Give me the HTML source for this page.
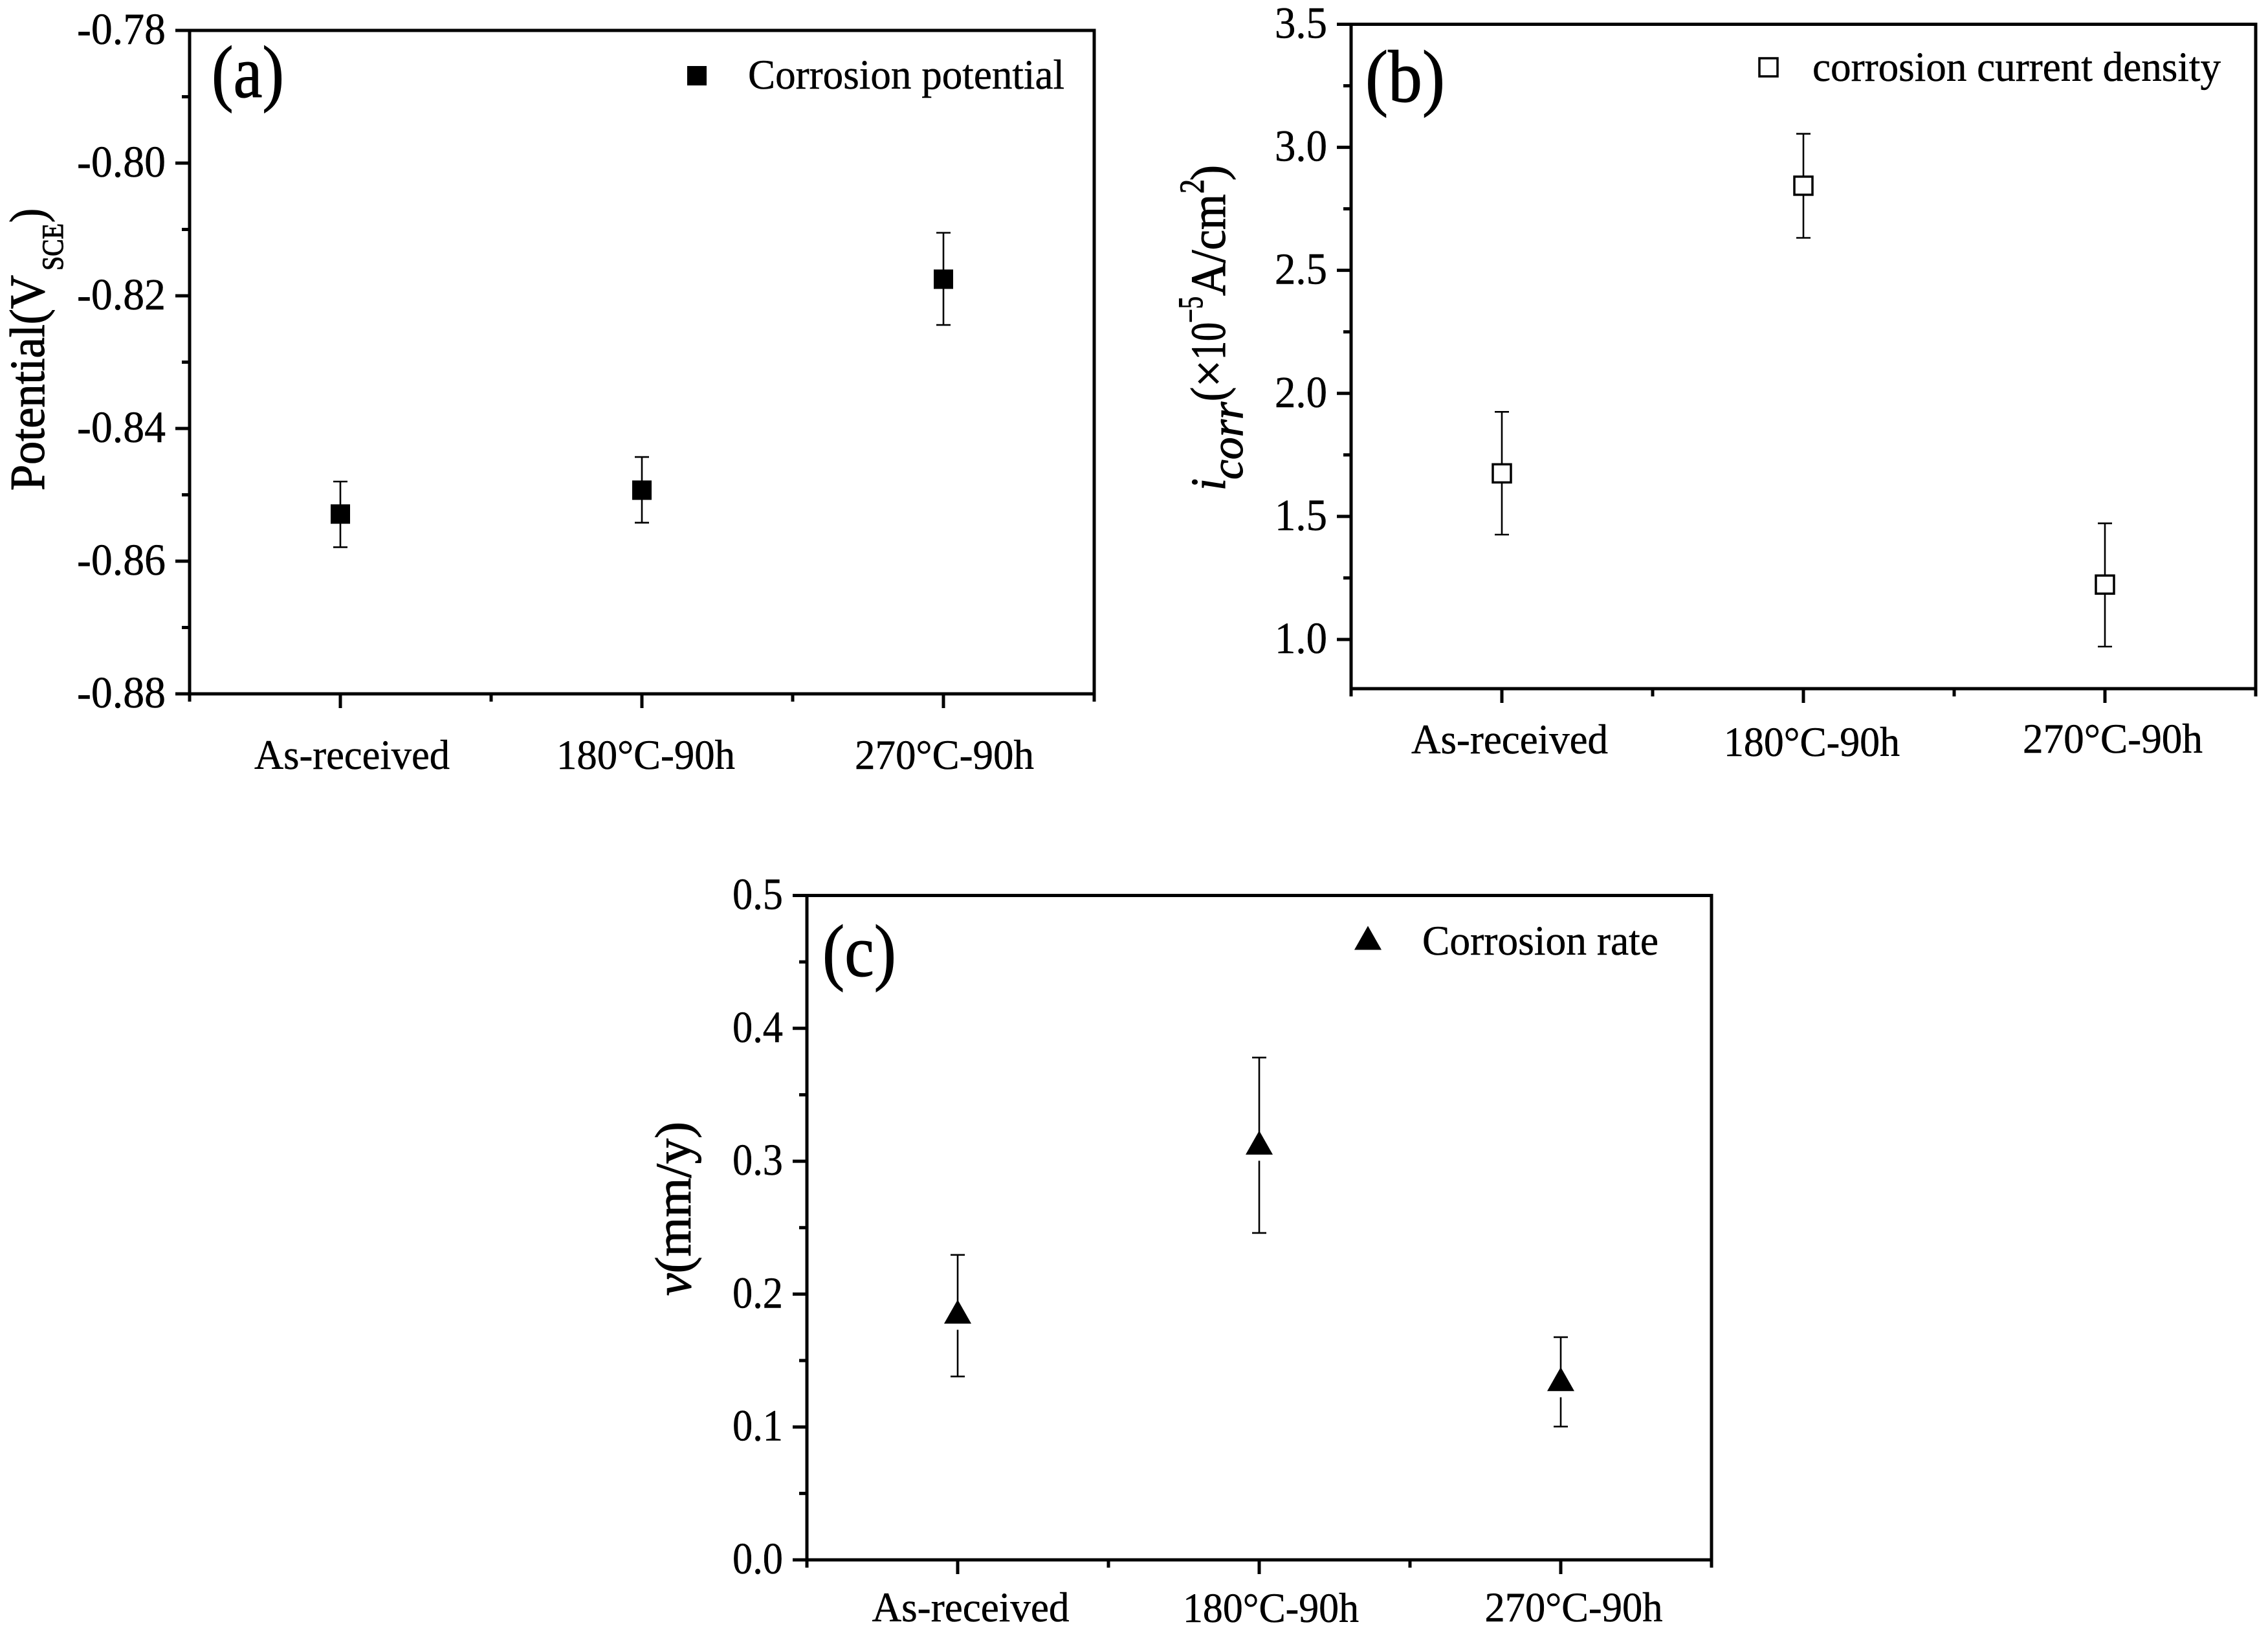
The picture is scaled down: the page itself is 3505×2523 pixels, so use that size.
<!DOCTYPE html>
<html lang="en">
<head>
<meta charset="utf-8">
<title>Corrosion potential, current density and rate</title>
<style>
html,body{margin:0;padding:0;background:#fff;}
svg{display:block;}
text{font-family:"Liberation Serif","DejaVu Serif",serif;fill:#000;stroke:#000;stroke-width:0.5px;}
.heavy text,text.heavy{stroke-width:1.1px;}
</style>
</head>
<body>
<svg id="figure" xmlns="http://www.w3.org/2000/svg" width="3505" height="2523" viewBox="0 0 3505 2523">
<rect x="0" y="0" width="3505" height="2523" fill="#fff"/>

<!-- panel letters -->
<text class="heavy" x="327" y="150" font-size="114" textLength="112" lengthAdjust="spacingAndGlyphs">(a)</text>
<text class="heavy" x="2110" y="157" font-size="114" textLength="123" lengthAdjust="spacingAndGlyphs">(b)</text>
<text class="heavy" x="1271" y="1508" font-size="114" textLength="114" lengthAdjust="spacingAndGlyphs">(c)</text>

<!-- legends -->
<text x="1156" y="137" font-size="65" textLength="489" lengthAdjust="spacingAndGlyphs">Corrosion potential</text>
<text x="2801" y="125" font-size="65" textLength="631" lengthAdjust="spacingAndGlyphs">corrosion current density</text>
<text x="2198" y="1475" font-size="65" textLength="365" lengthAdjust="spacingAndGlyphs">Corrosion rate</text>

<!-- y axis title a -->
<g class="heavy">
  <text transform="translate(68,758) rotate(-90)" font-size="76" textLength="333" lengthAdjust="spacingAndGlyphs">Potential(V</text>
  <text transform="translate(97,418) rotate(-90)" font-size="47" textLength="73" lengthAdjust="spacingAndGlyphs">SCE</text>
  <text transform="translate(68,344) rotate(-90)" font-size="76" textLength="22" lengthAdjust="spacingAndGlyphs">)</text>
</g>

<!-- y axis title b -->
<g class="heavy">
  <text transform="translate(1893,758) rotate(-90)" font-size="76" font-style="italic" textLength="19" lengthAdjust="spacingAndGlyphs">i</text>
  <text transform="translate(1920,741) rotate(-90)" font-size="70" font-style="italic" textLength="120" lengthAdjust="spacingAndGlyphs">corr</text>
  <text transform="translate(1893,620) rotate(-90)" font-size="76" textLength="22" lengthAdjust="spacingAndGlyphs">(</text>
  <text transform="translate(1893,598) rotate(-90)" font-size="76" textLength="42" lengthAdjust="spacingAndGlyphs">×</text>
  <text transform="translate(1893,556) rotate(-90)" font-size="76" textLength="58" lengthAdjust="spacingAndGlyphs">10</text>
  <text transform="translate(1858,499) rotate(-90)" font-size="54" textLength="41" lengthAdjust="spacingAndGlyphs">−5</text>
  <text transform="translate(1893,457) rotate(-90)" font-size="76" textLength="157" lengthAdjust="spacingAndGlyphs">A/cm</text>
  <text transform="translate(1860,299) rotate(-90)" font-size="54" textLength="22" lengthAdjust="spacingAndGlyphs">2</text>
  <text transform="translate(1893,279) rotate(-90)" font-size="76" textLength="24" lengthAdjust="spacingAndGlyphs">)</text>
</g>

<!-- y axis title c -->
<text class="heavy" transform="translate(1067,2002) rotate(-90)" font-size="78" textLength="269" lengthAdjust="spacingAndGlyphs"><tspan font-style="italic">v</tspan>(mm/y)</text>

<g id="plots"></g>
</svg>

<script>
// Shared categories
const categories = ["As-received", "180°C-90h", "270°C-90h"];
const categoryIndex = [1, 2, 3];
const categoryMinorTicks = [0.5, 1.5, 2.5, 3.5];

// Panel (a): corrosion potential
const potentialValues = [-0.8529, -0.8493, -0.8175];
const potentialHigh = [-0.8480, -0.8443, -0.8105];
const potentialLow = [-0.8579, -0.8542, -0.8244];
const potentialTicks = [-0.78, -0.80, -0.82, -0.84, -0.86, -0.88];
const potentialTickLabels = ["-0.78", "-0.80", "-0.82", "-0.84", "-0.86", "-0.88"];
const potentialMinorTicks = [-0.79, -0.81, -0.83, -0.85, -0.87];

// Panel (b): corrosion current density
const currentValues = [1.675, 2.844, 1.223];
const currentHigh = [1.925, 3.055, 1.472];
const currentLow = [1.426, 2.632, 0.971];
const currentTicks = [1.0, 1.5, 2.0, 2.5, 3.0, 3.5];
const currentTickLabels = ["1.0", "1.5", "2.0", "2.5", "3.0", "3.5"];
const currentMinorTicks = [1.25, 1.75, 2.25, 2.75, 3.25];

// Panel (c): corrosion rate
const rateValues = [0.1868, 0.314, 0.136];
const rateHigh = [0.2295, 0.378, 0.1676];
const rateLow = [0.138, 0.246, 0.1003];
const rateTicks = [0.0, 0.1, 0.2, 0.3, 0.4, 0.5];
const rateTickLabels = ["0.0", "0.1", "0.2", "0.3", "0.4", "0.5"];
const rateMinorTicks = [0.05, 0.15, 0.25, 0.35, 0.45];

const SVG_NS = "http://www.w3.org/2000/svg";
const plots = document.getElementById("plots");

function make(parent, tag, attrs) {
  const node = document.createElementNS(SVG_NS, tag);
  for (const key in attrs) node.setAttribute(key, attrs[key]);
  parent.appendChild(node);
  return node;
}

function segment(parent, x1, y1, x2, y2, width) {
  return make(parent, "line", { x1: x1, y1: y1, x2: x2, y2: y2, stroke: "#000", "stroke-width": width });
}

function drawMarker(parent, kind, cx, cy) {
  let mark;
  if (kind === "filled-square") {
    mark = make(parent, "rect", { x: cx - 15, y: cy - 15, width: 30, height: 30, fill: "#000" });
  } else if (kind === "open-square") {
    mark = make(parent, "rect", { x: cx - 14, y: cy - 14, width: 28, height: 28, fill: "#fff", stroke: "#000", "stroke-width": 3.5 });
  } else {
    mark = make(parent, "path", { d: "M" + cx + " " + (cy - 18.5) + "L" + (cx + 21) + " " + (cy + 18.5) + "L" + (cx - 21) + " " + (cy + 18.5) + "Z", fill: "#000" });
  }
  return mark;
}

function drawPanel(p) {
  const group = make(plots, "g", {});
  
  

  const xAt = v => p.left + (v - 0.5) / 3 * (p.right - p.left);
  const yAt = v => p.bottom - (v - p.yMin) / (p.yMax - p.yMin) * (p.bottom - p.top);

  const frame = make(group, "rect", { x: p.left, y: p.top, width: p.right - p.left, height: p.bottom - p.top, fill: "none", stroke: "#000", "stroke-width": 5 });
  
  

  p.ticks.forEach((t, i) => {
    const y = yAt(t);
    const tick = segment(group, p.left - 22, y, p.left, y, 5);
    
    
    const label = make(group, "text", { x: p.left - 37, y: y + 21, "font-size": 69, "text-anchor": "end", textLength: p.tickWidth, lengthAdjust: "spacingAndGlyphs" });
    label.textContent = p.tickLabels[i];
    
    
  });
  p.minorTicks.forEach(t => {
    const y = yAt(t);
    const tick = segment(group, p.left - 12, y, p.left, y, 5);
    
    
  });
  categoryMinorTicks.forEach(t => {
    const x = xAt(t);
    const tick = segment(group, x, p.bottom, x, p.bottom + 12, 5);
    
    
  });
  categoryIndex.forEach((c, i) => {
    const x = xAt(c);
    const tick = segment(group, x, p.bottom, x, p.bottom + 22, 5);
    
    
    const label = make(group, "text", { x: x + p.labelShift[i], y: p.labelBase[i], "font-size": 65, "text-anchor": "middle", textLength: p.labelWidth[i], lengthAdjust: "spacingAndGlyphs" });
    label.textContent = categories[i];
    
    
  });

  categoryIndex.forEach((c, i) => {
    const x = xAt(c);
    const hi = yAt(p.high[i]);
    const lo = yAt(p.low[i]);
    const cy = yAt(p.values[i]);
    const err = make(group, "g", {});
    
    
    segment(err, x, hi, x, lo, 2.6);
    segment(err, x - 11, hi, x + 11, hi, 2.6);
    segment(err, x - 11, lo, x + 11, lo, 2.6);
    if (p.marker === "triangle") {
      make(err, "rect", { x: x - 6, y: cy, width: 12, height: 28, fill: "#fff" });
    }
    const mark = drawMarker(group, p.marker, x, cy);
    
    
  });

  const legendMark = drawMarker(group, p.marker, p.legendX, p.legendY);
  
  
}

drawPanel({
  id: "a", left: 293, right: 1691, top: 47, bottom: 1072, yMin: -0.88, yMax: -0.78,
  ticks: potentialTicks, tickLabels: potentialTickLabels, minorTicks: potentialMinorTicks, tickWidth: 137,
  values: potentialValues, high: potentialHigh, low: potentialLow, marker: "filled-square",
  labelShift: [18, 6, 1.5], labelBase: [1188, 1188, 1188], labelWidth: [302, 276, 277],
  legendX: 1077, legendY: 117
});
drawPanel({
  id: "b", left: 2088, right: 3486, top: 37.5, bottom: 1064, yMin: 0.8, yMax: 3.5,
  ticks: currentTicks, tickLabels: currentTickLabels, minorTicks: currentMinorTicks, tickWidth: 81,
  values: currentValues, high: currentHigh, low: currentLow, marker: "open-square",
  labelShift: [12, 13, 12], labelBase: [1164, 1168, 1163], labelWidth: [304, 272, 278],
  legendX: 2733, legendY: 104
});
drawPanel({
  id: "c", left: 1247, right: 2645, top: 1383.5, bottom: 2410, yMin: 0, yMax: 0.5,
  ticks: rateTicks, tickLabels: rateTickLabels, minorTicks: rateMinorTicks, tickWidth: 78,
  values: rateValues, high: rateHigh, low: rateLow, marker: "triangle",
  labelShift: [20, 18, 20], labelBase: [2505, 2506, 2505], labelWidth: [305, 272, 275],
  legendX: 2114, legendY: 1449
});
</script>
</body>
</html>
